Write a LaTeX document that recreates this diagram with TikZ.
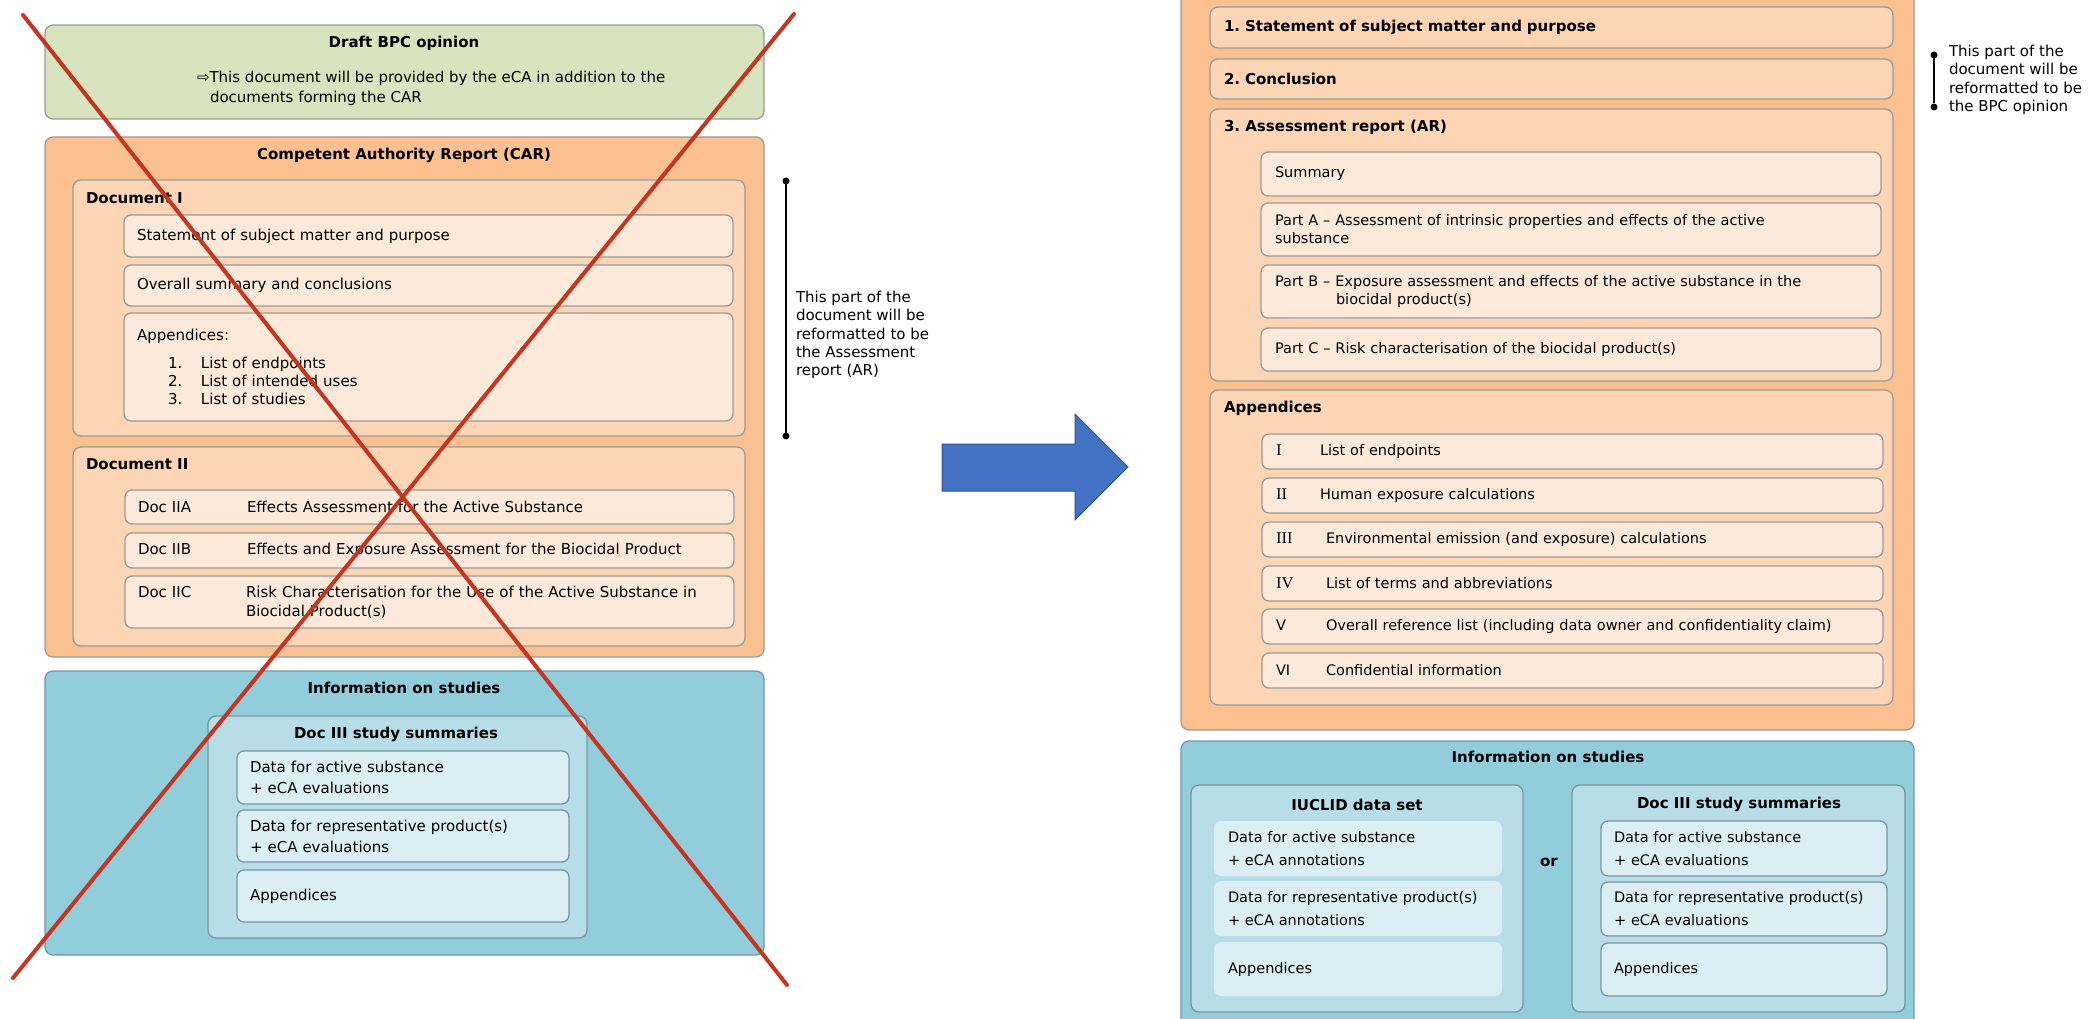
\documentclass[tikz,border=0pt]{standalone}
\usepackage{fontspec}
\setmainfont{DejaVu Sans}
\newfontfamily\numfont{Liberation Serif}
\frenchspacing

\definecolor{greenfill}{RGB}{215,228,189}
\definecolor{orangeA}{RGB}{250,192,144}
\definecolor{orangeB}{RGB}{252,213,181}
\definecolor{orangeC}{RGB}{253,233,217}
\definecolor{blueA}{RGB}{146,205,220}
\definecolor{blueB}{RGB}{183,222,232}
\definecolor{blueC}{RGB}{218,238,243}
\definecolor{edge}{RGB}{155,155,155}
\definecolor{blueedge}{RGB}{120,150,160}
\definecolor{crossred}{RGB}{196,54,34}
\definecolor{arrowblue}{RGB}{68,114,196}
\definecolor{arrowedge}{RGB}{47,82,143}

\newcommand{\rn}[1]{{\numfont\fontsize{16.5}{18}\selectfont #1}}

\begin{document}
\begin{tikzpicture}[x=1pt, y=-1pt,
	every node/.style={font=\fontsize{15}{18.5}\selectfont, inner sep=0pt, outer sep=0pt},
	boxsize/.style 2 args={minimum width=#1pt, minimum height=#2pt},
	frame/.style={draw=edge, line width=1.3pt, rounded corners=8pt, anchor=north west},
	greenbox/.style={frame, fill=greenfill},
	orangeout/.style={frame, fill=orangeA},
	orangemid/.style={frame, fill=orangeB},
	orangeitem/.style={frame, fill=orangeC, rounded corners=7pt, inner xsep=13pt, align=left},
	orangehead/.style={orangemid, inner xsep=14pt, align=left, font=\bfseries\fontsize{15}{18}\selectfont},
	blueout/.style={frame, fill=blueA, draw=blueedge},
	bluemid/.style={frame, fill=blueB, draw=blueedge},
	blueitem/.style={frame, fill=blueC, draw=blueedge, rounded corners=7pt, inner xsep=13pt, align=left},
	blueflat/.style={blueitem, draw=none, inner xsep=14pt},
	title/.style={font=\bfseries\fontsize{15}{18}\selectfont},
	rtext/.style={font=\fontsize{14.5}{18}\selectfont},
	note/.style={anchor=west, align=left, font=\fontsize{15}{18.3}\selectfont},
	dot/.style={circle, fill=black, minimum size=7pt},
	cross/.style={crossred, line width=4pt, line cap=round}]
	\useasboundingbox (0,0) rectangle (2092,1019);
	\clip (0,0) rectangle (2092,1019);

	% old layout
	\node[greenbox, boxsize={719}{94}] (opinion) at (45,25) {};
	\node[title] (opiniontitle) at (404,43) {Draft BPC opinion};
	\node[anchor=west, align=left, font=\fontsize{15}{20}\selectfont] (opinionnote) at (197,88) {⇨This document will be provided by the eCA in addition to the\\\hspace*{13pt}documents forming the CAR};

	\node[orangeout, boxsize={719}{520}] (car) at (45,137) {};
	\node[title] (cartitle) at (404,155) {Competent Authority Report (CAR)};
	\node[orangemid, boxsize={672}{256}] (docone) at (73,180) {};
	\node[title, anchor=west] (doconetitle) at (86,198) {Document I};
	\node[orangeitem, text width=583pt, minimum height=42pt] (statement) at (124,215) {Statement of subject matter and purpose};
	\node[orangeitem, text width=583pt, minimum height=41pt] (overall) at (124,265) {Overall summary and conclusions};
	\node[orangeitem, text width=583pt, minimum height=108pt, font=\fontsize{15}{18}\selectfont] (appold) at (124,313) {Appendices:\\[10pt]
		\hspace*{31pt}\makebox[33pt][l]{1.}List of endpoints\\
		\hspace*{31pt}\makebox[33pt][l]{2.}List of intended uses\\
		\hspace*{31pt}\makebox[33pt][l]{3.}List of studies};

	\node[dot] (artop) at (786,181) {};
	\node[dot] (arbot) at (786,436) {};
	\draw[line width=1.6pt] (artop) -- (arbot);
	\node[note] (arnote) at (796,335) {This part of the\\document will be\\reformatted to be\\the Assessment\\report (AR)};

	\node[orangemid, boxsize={672}{199}] (doctwo) at (73,447) {};
	\node[title, anchor=west] (doctwotitle) at (86,464) {Document II};
	\node[orangeitem, text width=583pt, minimum height=34pt] (docIIa) at (125,490) {\makebox[109pt][l]{Doc IIA}Effects Assessment for the Active Substance};
	\node[orangeitem, text width=583pt, minimum height=35pt] (docIIb) at (125,533) {\makebox[109pt][l]{Doc IIB}Effects and Exposure Assessment for the Biocidal Product};
	\node[orangeitem, text width=583pt, minimum height=52pt, font=\fontsize{15}{19}\selectfont] (docIIc) at (125,576) {\makebox[108pt][l]{Doc IIC}\parbox[t]{470pt}{Risk Characterisation for the Use of the Active Substance in\\Biocidal Product(s)}};

	\node[blueout, boxsize={719}{284}] (infoold) at (45,671) {};
	\node[title] (infooldtitle) at (404,688) {Information on studies};
	\node[bluemid, boxsize={379}{222}] (docthreeold) at (208,716) {};
	\node[title] (docthreeoldtitle) at (396,734) {Doc III study summaries};
	\node[blueitem, text width=306pt, minimum height=53pt, font=\fontsize{15}{21}\selectfont] (activeold) at (237,751) {Data for active substance\\+ eCA evaluations};
	\node[blueitem, text width=306pt, minimum height=52pt, font=\fontsize{15}{21}\selectfont] (productold) at (237,810) {Data for representative product(s)\\+ eCA evaluations};
	\node[blueitem, text width=306pt, minimum height=52pt] (appendold) at (237,870) {Appendices};

	% crossed out
	\coordinate (xa) at (23,15);
	\coordinate (xb) at (787,985);
	\coordinate (xc) at (794,14);
	\coordinate (xd) at (13,978);
	\draw[cross] (xa) -- (xb);
	\draw[cross] (xc) -- (xd);

	% big arrow
	\draw[fill=arrowblue, draw=arrowedge, line width=1pt] (942,444) -- (1075,444) -- (1075,414) -- (1128,467) -- (1075,520) -- (1075,491) -- (942,491) -- cycle;

	% new layout
	\node[orangeout, boxsize={733}{760}] (carnew) at (1181,-30) {};
	\node[orangehead, text width=655pt, minimum height=41pt] (statementnew) at (1210,7) {1. Statement of subject matter and purpose};
	\node[orangehead, text width=655pt, minimum height=40pt] (conclusionnew) at (1210,59) {2. Conclusion};
	\node[orangemid, boxsize={683}{272}] (arnew) at (1210,109) {};
	\node[title, anchor=west] (arnewtitle) at (1224,127) {3. Assessment report (AR)};
	\node[orangeitem, rtext, inner xsep=14pt, text width=592pt, minimum height=44pt] (summarynew) at (1261,152) {Summary};
	\node[orangeitem, rtext, inner xsep=14pt, text width=592pt, minimum height=53pt] (partA) at (1261,203) {Part A – Assessment of intrinsic properties and effects of the active\\substance};
	\node[orangeitem, rtext, inner xsep=14pt, text width=592pt, minimum height=53pt] (partB) at (1261,265) {Part B – Exposure assessment and effects of the active substance in the\\\hspace*{61pt}biocidal product(s)};
	\node[orangeitem, rtext, inner xsep=14pt, text width=592pt, minimum height=43pt] (partC) at (1261,328) {Part C – Risk characterisation of the biocidal product(s)};

	\node[orangemid, boxsize={683}{315}] (appnew) at (1210,390) {};
	\node[title, anchor=west] (appnewtitle) at (1224,408) {Appendices};
	\node[orangeitem, rtext, inner xsep=14pt, text width=593pt, minimum height=35pt] (appI) at (1262,434) {\makebox[44pt][l]{\rn{I}}List of endpoints};
	\node[orangeitem, rtext, inner xsep=14pt, text width=593pt, minimum height=35pt] (appII) at (1262,478) {\makebox[44pt][l]{\rn{II}}Human exposure calculations};
	\node[orangeitem, rtext, inner xsep=14pt, text width=593pt, minimum height=35pt] (appIII) at (1262,522) {\makebox[50pt][l]{\rn{III}}Environmental emission (and exposure) calculations};
	\node[orangeitem, rtext, inner xsep=14pt, text width=593pt, minimum height=35pt] (appIV) at (1262,566) {\makebox[50pt][l]{\rn{IV}}List of terms and abbreviations};
	\node[orangeitem, rtext, inner xsep=14pt, text width=593pt, minimum height=35pt] (appV) at (1262,609) {\makebox[50pt][l]{V}Overall reference list (including data owner and confidentiality claim)};
	\node[orangeitem, rtext, inner xsep=14pt, text width=593pt, minimum height=35pt] (appVI) at (1262,653) {\makebox[50pt][l]{VI}Confidential information};

	\node[dot] (bpctop) at (1934,55) {};
	\node[dot] (bpcbot) at (1934,107) {};
	\draw[line width=1.6pt] (bpctop) -- (bpcbot);
	\node[note] (bpcnote) at (1949,80) {This part of the\\document will be\\reformatted to be\\the BPC opinion};

	\node[blueout, boxsize={733}{300}] (infonew) at (1181,741) {};
	\node[title] (infonewtitle) at (1548,757) {Information on studies};
	\node[bluemid, boxsize={332}{227}] (iuclid) at (1191,785) {};
	\node[title] (iuclidtitle) at (1357,805) {IUCLID data set};
	\node[blueflat, rtext, text width=260pt, minimum height=55pt, font=\fontsize{14.5}{23}\selectfont] (activeiuclid) at (1214,821) {Data for active substance\\+ eCA annotations};
	\node[blueflat, rtext, text width=260pt, minimum height=55pt, font=\fontsize{14.5}{23}\selectfont] (productiuclid) at (1214,881) {Data for representative product(s)\\+ eCA annotations};
	\node[blueflat, rtext, text width=260pt, minimum height=54pt] (appendiuclid) at (1214,942) {Appendices};
	\node[title] (ornode) at (1549,862) {or};
	\node[bluemid, boxsize={333}{227}] (docthreenew) at (1572,785) {};
	\node[title] (docthreenewtitle) at (1739,804) {Doc III study summaries};
	\node[blueitem, rtext, text width=260pt, minimum height=55pt, font=\fontsize{14.5}{23}\selectfont] (activenew) at (1601,821) {Data for active substance\\+ eCA evaluations};
	\node[blueitem, rtext, text width=260pt, minimum height=54pt, font=\fontsize{14.5}{23}\selectfont] (productnew) at (1601,882) {Data for representative product(s)\\+ eCA evaluations};
	\node[blueitem, rtext, text width=260pt, minimum height=53pt] (appendnew) at (1601,943) {Appendices};
\end{tikzpicture}
\end{document}
